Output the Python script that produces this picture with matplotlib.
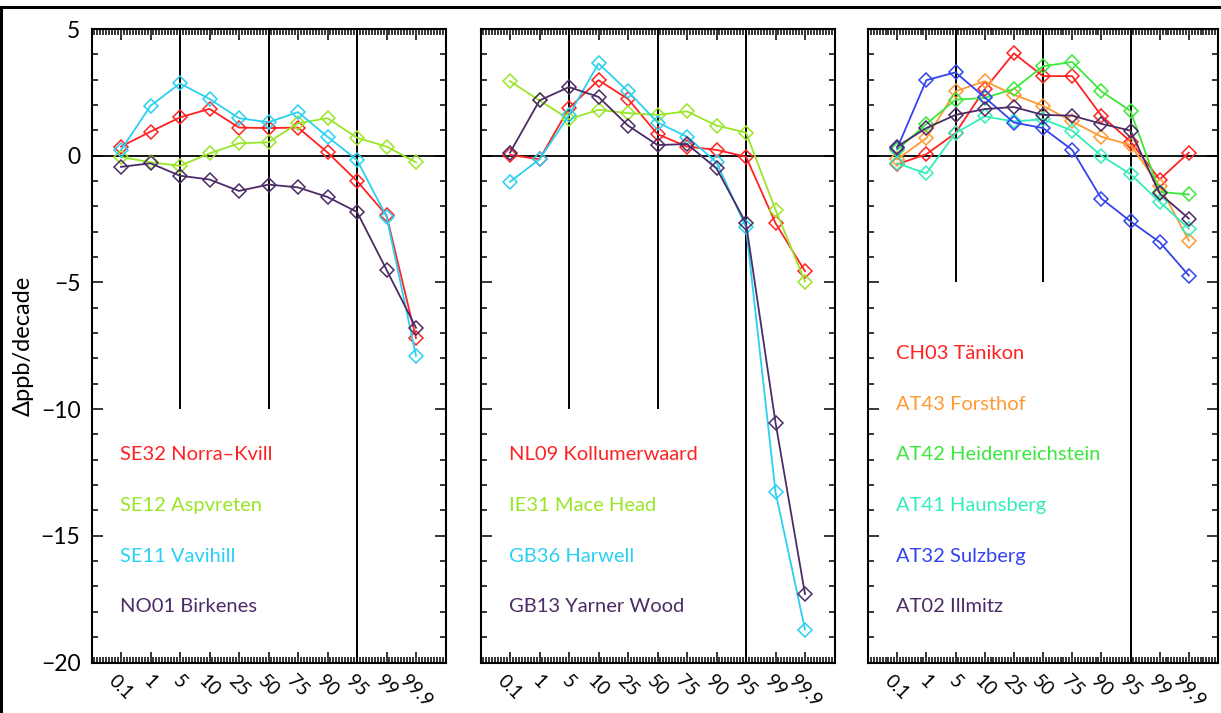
import matplotlib.pyplot as plt
from matplotlib.ticker import MultipleLocator, FixedLocator
from matplotlib.lines import Line2D

plt.rcParams['font.family'] = ['Lato', 'DejaVu Sans']

percentiles = ['0.1', '1', '5', '10', '25', '50', '75', '90', '95', '99', '99.9']

# trends per percentile, ppb/decade
se32 = [0.36, 0.95, 1.51, 1.85, 1.11, 1.09, 1.11, 0.13, -1.0, -2.35, -7.2]
se12 = [-0.05, -0.26, -0.4, 0.09, 0.49, 0.53, 1.28, 1.48, 0.71, 0.36, -0.26]
se11 = [0.22, 1.97, 2.85, 2.24, 1.48, 1.32, 1.72, 0.75, -0.17, -2.4, -7.9]
no01 = [-0.44, -0.3, -0.79, -0.94, -1.39, -1.14, -1.25, -1.63, -2.22, -4.5, -6.79]

nl09 = [0.03, -0.14, 1.88, 2.98, 2.24, 0.85, 0.36, 0.23, -0.04, -2.66, -4.56]
ie31 = [2.94, 2.18, 1.44, 1.81, 1.68, 1.61, 1.75, 1.19, 0.91, -2.13, -4.97]
gb36 = [-1.03, -0.14, 1.6, 3.64, 2.54, 1.31, 0.75, -0.26, -2.82, -13.27, -18.7]
gb13 = [0.12, 2.18, 2.71, 2.32, 1.19, 0.42, 0.46, -0.5, -2.66, -10.53, -17.3]

ch03 = [-0.34, 0.06, 0.89, 2.63, 4.04, 3.14, 3.14, 1.58, 0.56, -0.94, 0.12]
at43 = [-0.14, 0.69, 2.54, 2.94, 2.41, 1.97, 1.35, 0.75, 0.42, -1.2, -3.35]
at42 = [0.23, 1.25, 2.21, 2.28, 2.63, 3.53, 3.7, 2.54, 1.77, -1.43, -1.53]
at41 = [-0.3, -0.7, 0.89, 1.55, 1.35, 1.44, 0.99, 0.0, -0.73, -1.82, -2.88]
at32 = [0.29, 2.98, 3.29, 2.3, 1.31, 1.09, 0.23, -1.69, -2.59, -3.41, -4.73]
at02 = [0.36, 1.09, 1.61, 1.84, 1.92, 1.61, 1.58, 1.26, 0.99, -1.49, -2.48]

panels = [
    (['SE32 Norra–Kvill', 'SE12 Aspvreten', 'SE11 Vavihill', 'NO01 Birkenes'],
     [se32, se12, se11, no01],
     ['#ff2222', '#99e628', '#2ad0f2', '#4b2c66'], -10),
    (['NL09 Kollumerwaard', 'IE31 Mace Head', 'GB36 Harwell', 'GB13 Yarner Wood'],
     [nl09, ie31, gb36, gb13],
     ['#ff2222', '#99e628', '#2ad0f2', '#4b2c66'], -10),
    (['CH03 Tänikon', 'AT43 Forsthof', 'AT42 Heidenreichstein',
      'AT41 Haunsberg', 'AT32 Sulzberg', 'AT02 Illmitz'],
     [ch03, at43, at42, at41, at32, at02],
     ['#ff2222', '#ff9933', '#3be83b', '#33eebb', '#3344ee', '#4b2c66'], -5),
]

W, H = 1221, 713
fig = plt.figure(figsize=(W / 100, H / 100), dpi=100)

# panel boxes in pixels: left, width
boxes = [(91.5, 354), (480.5, 354), (868, 350)]
top_px, bot_px = 29, 662.5

x = list(range(len(percentiles)))

for i, ((names, series, colors, stub), (left, width)) in enumerate(zip(panels, boxes)):
    ax = fig.add_axes([left / W, 1 - bot_px / H, width / W, (bot_px - top_px) / H])
    ax.set_xlim(-1, 11)
    ax.set_ylim(-20, 5)

    # reference lines
    ax.axhline(0, color='black', lw=1.3, zorder=1)
    ax.vlines([2, 5], stub, 5, color='black', lw=1.4, zorder=1)
    ax.vlines([8], -20, 5, color='black', lw=1.4, zorder=1)

    for vals, c in zip(series, colors):
        ax.plot(x, vals, color=c, lw=1.3, marker='D', ms=7, mfc='none',
                mec=c, mew=1.1, zorder=3)

    n = len(names)
    for k, (name, c) in enumerate(zip(names, colors)):
        ax.text(-0.05, -17.8 + 2 * (n - 1 - k), name, color=c, fontsize=14.5,
                ha='left', va='center')

    ax.xaxis.set_major_locator(FixedLocator(x))
    ax.xaxis.set_minor_locator(MultipleLocator(0.1))
    ax.set_xticklabels(percentiles, rotation=-45, ha='center', va='top',
                       fontsize=13.5)
    ax.yaxis.set_major_locator(MultipleLocator(5))
    ax.yaxis.set_minor_locator(MultipleLocator(1))
    ax.tick_params(which='both', direction='in', top=True, right=True,
                   width=1.1, color='black')
    ax.tick_params(which='major', length=8)
    ax.tick_params(which='minor', length=4)
    ax.tick_params(axis='x', which='major', pad=7)
    ax.tick_params(axis='y', which='major', pad=8, labelsize=16.5)
    for s in ax.spines.values():
        s.set_linewidth(1.5)
    if i == 0:
        ax.set_ylabel('Δppb/decade', fontsize=17, labelpad=5)
    else:
        ax.set_yticklabels([])

# outer frame
fig.add_artist(Line2D([0, 1], [1 - 6.5 / H] * 2, color='black', lw=2.2,
                      transform=fig.transFigure))
fig.add_artist(Line2D([0.8 / W] * 2, [0, 1 - 6.5 / H], color='black', lw=2.2,
                      transform=fig.transFigure))

fig.savefig('out.png', dpi=100)
